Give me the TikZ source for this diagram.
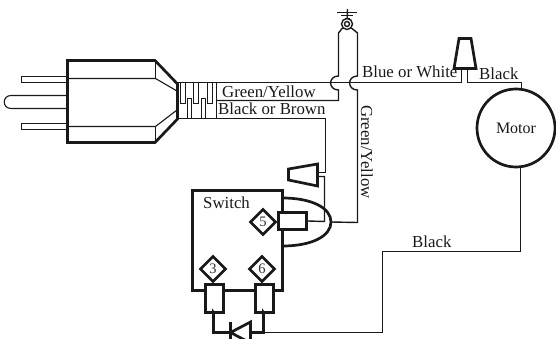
\documentclass[tikz,border=0pt]{standalone}
\usepackage{fontspec}
\usetikzlibrary{shapes.geometric}
\setmainfont{Liberation Serif}
\begin{document}
\begin{tikzpicture}[x=1pt,y=-1pt,line join=miter,
  ink/.style={draw=black!90},
  heavy/.style={ink,line width=2.7pt},
  lead/.style={ink,line width=1.4pt},
  plugline/.style={ink,line width=1.1pt},
  lbl/.style={inner sep=0pt,anchor=base west,text=black!90,font=\fontsize{16.8}{17}\selectfont},
  term/.style={heavy,fill=white,minimum width=18pt,minimum height=28pt,inner sep=0pt},
  pin/.style={diamond,aspect=1,heavy,fill=white,minimum size=26pt,inner sep=0pt,text=black!80,font=\fontsize{14.5}{15}\selectfont},
]
\useasboundingbox (0,0) rectangle (556,339);
\clip (0,0) rectangle (556,339);
% --- plug
\draw[plugline] (67,76.5) -- (21.5,76.5) -- (21.5,82.5) -- (67,82.5);
\draw[plugline] (67,123.5) -- (21.5,123.5) -- (21.5,129.5) -- (67,129.5);
\draw[plugline] (67,95.5) -- (11,95.5) .. controls (2,95.5) and (2,108.5) .. (11,108.5) -- (67,108.5);
\draw[plugline] (67,78.5) -- (155.5,78.5) -- (177,91);
\draw[plugline] (67,126.5) -- (155.5,126.5) -- (177,110);
\draw[plugline] (155.5,60) -- (155.5,78.5) (155.5,126.5) -- (155.5,143);
\draw[ink,line width=2.7pt] (67.5,60.5) -- (155,60.5) -- (177.5,84) -- (177.5,119) -- (155,142.5) -- (67.5,142.5) -- cycle;
% --- strain relief
\draw[lead] (177,82.5) -- (216.5,82.5) -- (216.5,118.5) -- (177,118.5);
\draw[lead] (180.5,82.5) -- (180.5,103.5) -- (185.5,103.5) -- (185.5,82.5);
\draw[lead] (193.5,82.5) -- (193.5,103.5) -- (198.5,103.5) -- (198.5,82.5);
\draw[lead] (207.5,82.5) -- (207.5,103.5) -- (212.5,103.5) -- (212.5,82.5);
\draw[lead] (187.5,118.5) -- (187.5,98.5) -- (191.5,98.5) -- (191.5,118.5);
\draw[lead] (201.5,118.5) -- (201.5,98.5) -- (205.5,98.5) -- (205.5,118.5);
% --- motor
\node[circle,heavy,minimum size=78pt,inner sep=0pt,text=black!90,font=\fontsize{16}{16}\selectfont] (motor) at (516,128) {Motor};
\coordinate (mt) at (521.5,89);
\coordinate (mb) at (520.5,167);
% switch housing
\coordinate (swtr) at (282.5,190.5);
\coordinate (swtl) at (192.5,190.5);
\coordinate (swbl) at (192.5,290.5);
\coordinate (swbr) at (282.5,290.5);
\draw[heavy] (282.5,212) -- (swtr) -- (swtl) -- (swbl) -- (swbr) -- (282.5,229);
\coordinate (dtop) at (282.5,198);
\coordinate (dbot) at (282.5,246);
\coordinate (dapex) at (331,222);
\draw[heavy] (dtop) .. controls (312,198) and (331,208) .. (dapex) .. controls (331,236) and (312,246) .. (dbot);
\node[term,minimum width=28pt,minimum height=17pt] (tfive) at (292.5,221) {};
\node[term] (tthree) at (214.5,298.5) {};
\node[term] (tsix) at (264.5,298.5) {};
\node[pin] (pfive) at (263,222) {5};
\node[pin] (pthree) at (213,269) {3};
\node[pin] (psix) at (262,269) {6};
% wire nuts
\coordinate (na) at (288.5,169); \coordinate (nb) at (317.5,164);
\coordinate (nc) at (317.5,186); \coordinate (nd) at (288.5,180);
\draw[heavy] (na) -- (nb) -- (nc) -- (nd) -- cycle;
\coordinate (ma) at (459,38.5); \coordinate (mbb) at (471,38.5);
\coordinate (mc) at (476,68.5); \coordinate (md) at (454,68.5);
\draw[heavy] (ma) -- (mbb) -- (mc) -- (md) -- cycle;
% --- wires
\coordinate (hub) at (216.5,82.5);
\coordinate (hum) at (216.5,100.5);
\coordinate (hul) at (216.5,118.5);
\draw[lead] (hub) -- (461.5,82.5) -- (461.5,68);
\draw[lead] (467.5,68) -- (467.5,82.5) -- (521.5,82.5) -- (mt);
% ground lead loop with hops
\draw[lead] (hum) -- (338.5,100.5) -- (338.5,90) .. controls (328,90) and (328,76) .. (338.5,76) -- (338.5,33) -- (342,28.5);
\draw[lead] (dapex) -- (357.5,222.5) -- (357.5,90) .. controls (347,90) and (347,76) .. (357.5,76) -- (357.5,33) -- (352,28.5);
\draw[lead] (342,28.5) -- (352,28.5);
\node[circle,lead,fill=white,minimum size=11pt,inner sep=0pt] (ring) at (347,24) {};
\node[circle,lead,minimum size=5pt,inner sep=0pt] at (ring) {};
\coordinate (gnd) at (347.5,9);
\draw[lead] (gnd) -- (ring);
\draw[lead] (337,12.5) -- (357,12.5) (341,15.5) -- (353,15.5) (344.5,18.5) -- (349.5,18.5);
% black / brown to nut and switch
\draw[lead] (hul) -- (325.5,118.5) -- (325.5,172.5) -- (317,172.5);
\draw[lead] (317,176.5) -- (324.5,176.5) -- (324.5,221.5) -- (tfive.east);
% diode
\coordinate (da) at (230.5,332.5);
\coordinate (db) at (250.5,322);
\coordinate (dc) at (250.5,343);
\draw[heavy] (da) -- (db) -- (dc) -- cycle;
\draw[heavy] (230.5,322) -- (230.5,343);
\draw[heavy] (tthree.south) -- (213.5,312.5) -- (213.5,332.5) -- (da);
\draw[heavy] (tsix.south) -- (263.5,312.5) -- (263.5,332.5) -- (250.5,332.5);
\draw[lead] (263.5,332.5) -- (382.5,332.5) -- (382.5,251.5) -- (520.5,251.5) -- (mb);
% --- labels
\node[lbl] (l1) at (222,98) {Green/Yellow};
\node[lbl] (l2) at (218,115) {Black or Brown};
\node[lbl] (l3) at (362,78) {Blue or White};
\node[lbl] (l4) at (479,80) {Black};
\node[lbl] (l5) at (412,247) {Black};
\node[lbl] (l6) at (203,208) {Switch};
\node[lbl,rotate=-90] (l7) at (361,105) {Green/Yellow};
\end{tikzpicture}
\end{document}
